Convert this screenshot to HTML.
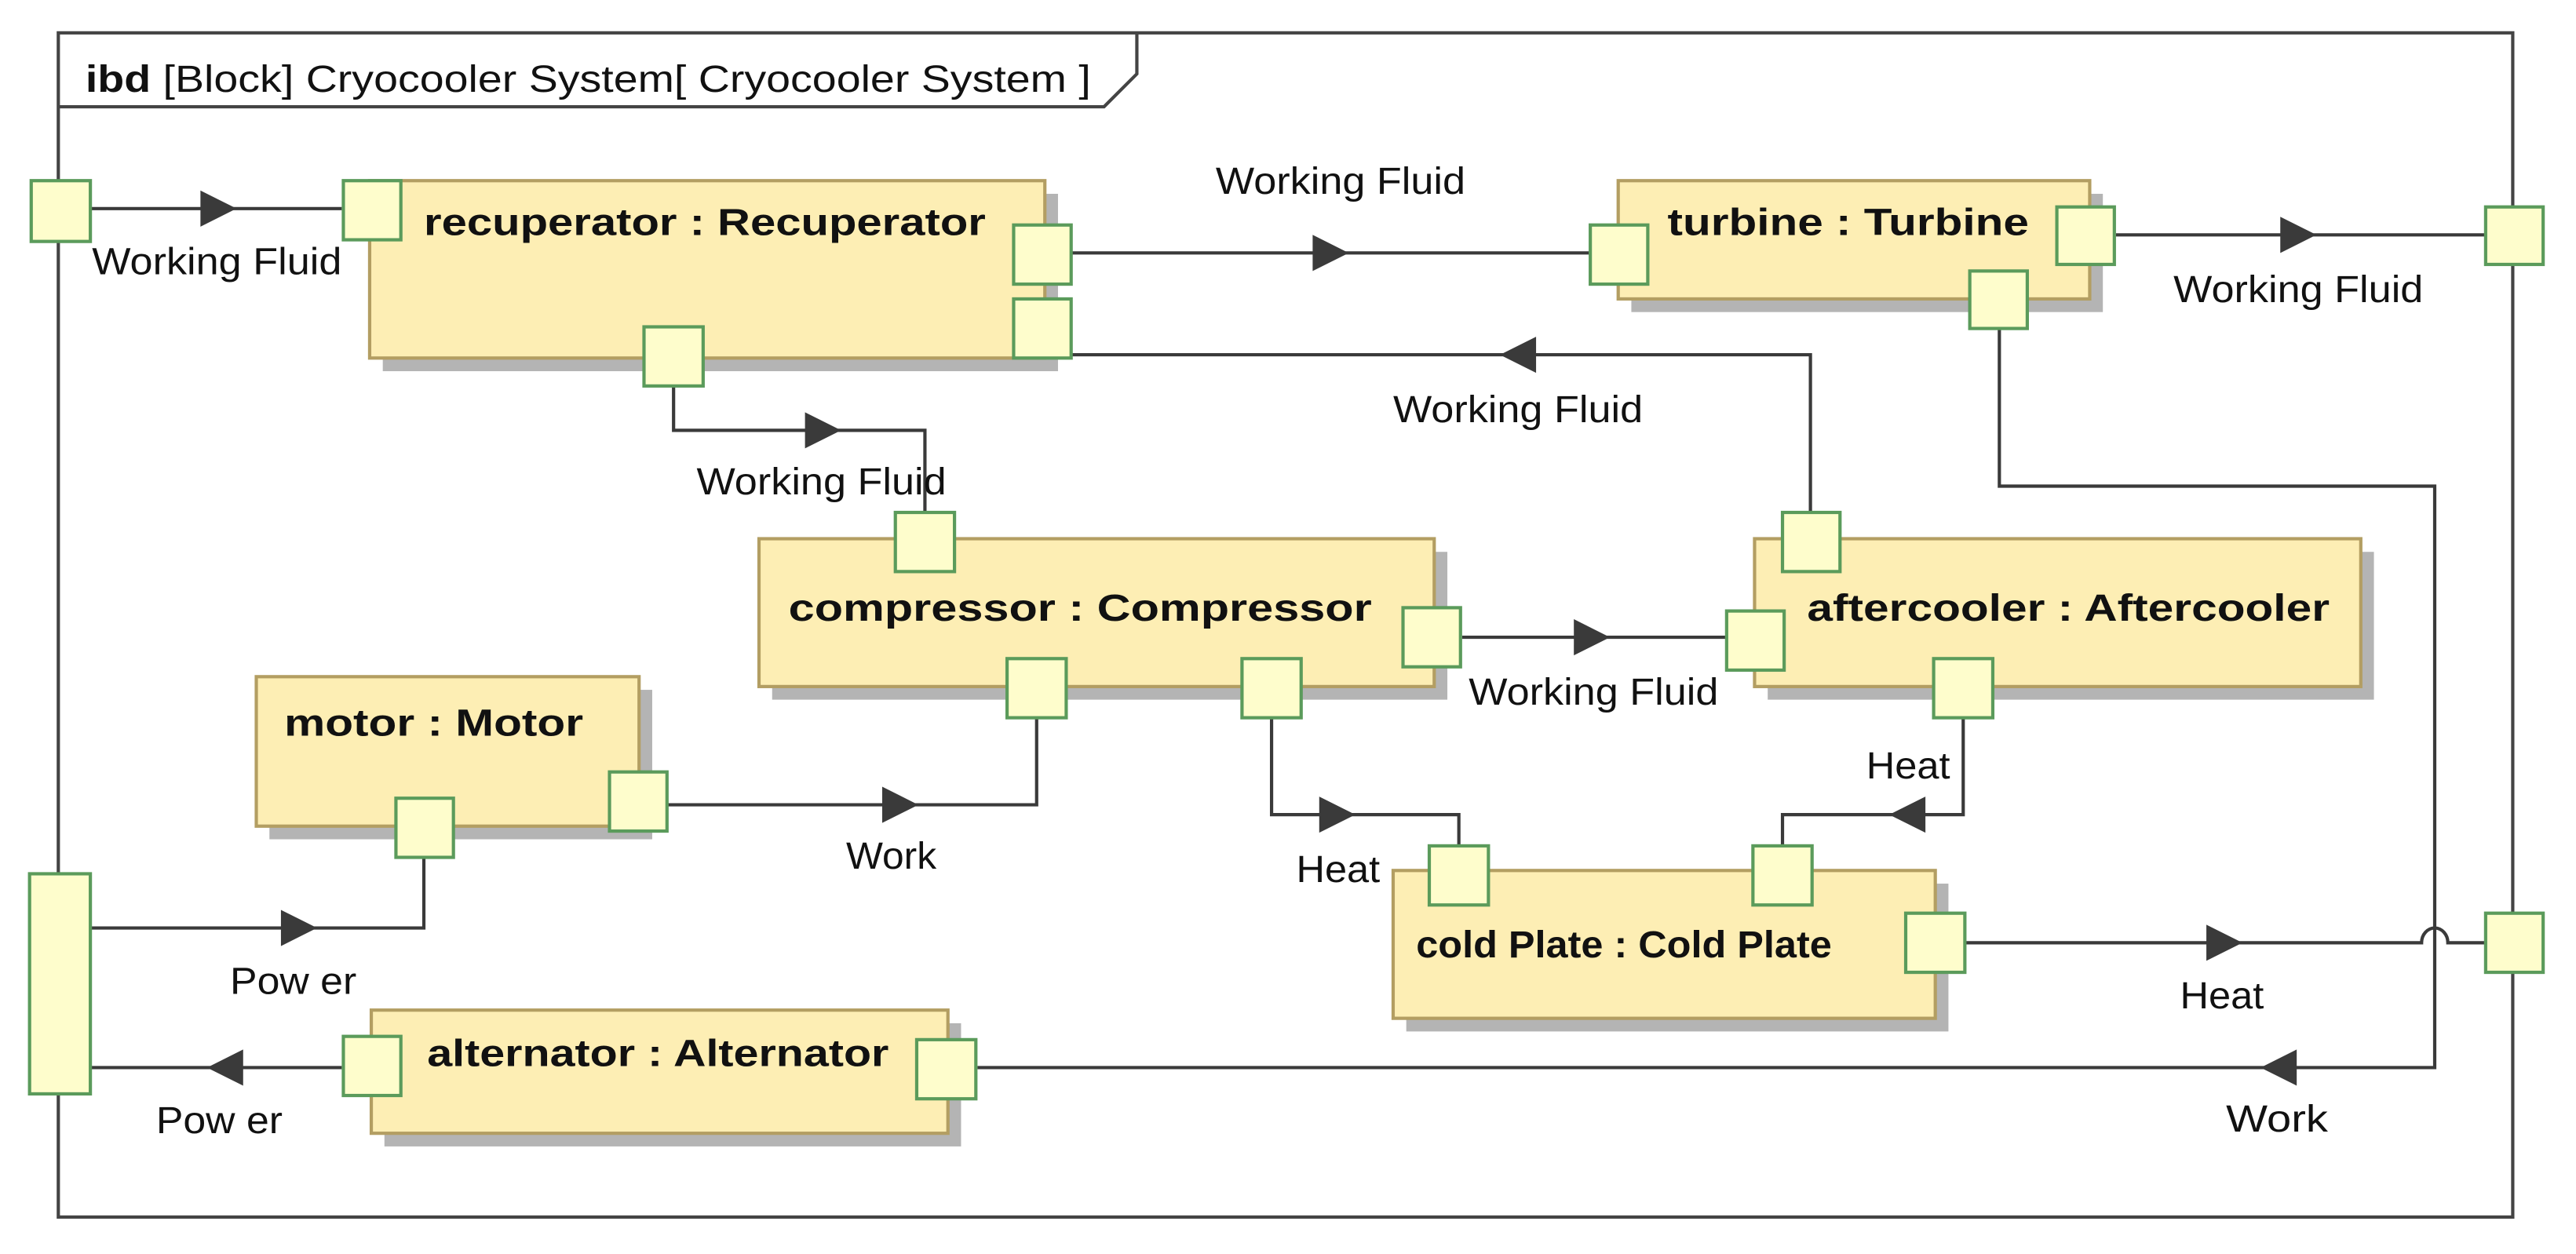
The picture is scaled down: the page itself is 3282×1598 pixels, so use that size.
<!DOCTYPE html>
<html><head><meta charset="utf-8"><style>html,body{margin:0;padding:0;background:#fff}svg{display:block}</style></head>
<body>
<svg width="3282" height="1598" viewBox="0 0 1568 763.5" preserveAspectRatio="none" xmlns="http://www.w3.org/2000/svg" font-family="Liberation Sans, Arial, sans-serif">
<rect x="0" y="0" width="1568" height="763.5" fill="#fff"/>
<rect x="35.5" y="20" width="1494" height="721" fill="none" stroke="#444" stroke-width="2"/>
<polyline points="35.5,65 672,65 692,45 692,20" fill="none" stroke="#444" stroke-width="2"/>
<text x="52" y="56" font-size="23" fill="#111" textLength="612" lengthAdjust="spacingAndGlyphs"><tspan font-weight="bold">ibd</tspan> [Block] Cryocooler System[ Cryocooler System ]</text>

<g stroke="#3a3a3a" stroke-width="2" fill="none">
<polyline points="55,127 208,127"/>
<polyline points="652,154 968,154"/>
<polyline points="652,216 1102,216 1102,313"/>
<polyline points="410,235 410,262 563,262 563,313"/>
<polyline points="1288,143 1513,143"/>
<polyline points="1217,200 1217,296 1482,296 1482,650 595,650"/>
<polyline points="890,388 1051,388"/>
<polyline points="406,490 631,490 631,437"/>
<polyline points="774,437 774,496 888,496 888,515"/>
<polyline points="1195,437 1195,496 1085,496 1085,515"/>
<polyline points="55,565 258,565 258,522"/>
<polyline points="208,650 55,650"/>
<path d="M1196,574 L1474,574 A8,9 0 0 1 1490,574 L1513,574"/>
</g>

<g fill="#3a3a3a">
<polygon points="122,116 122,138 144,127"/>
<polygon points="799,143 799,165 821,154"/>
<polygon points="935,205 935,227 913,216"/>
<polygon points="490,251 490,273 512,262"/>
<polygon points="1388,132 1388,154 1410,143"/>
<polygon points="1398,639 1398,661 1376,650"/>
<polygon points="958,377 958,399 980,388"/>
<polygon points="537,479 537,501 559,490"/>
<polygon points="803,485 803,507 825,496"/>
<polygon points="1172,485 1172,507 1150,496"/>
<polygon points="171,554 171,576 193,565"/>
<polygon points="148,639 148,661 126,650"/>
<polygon points="1343,563 1343,585 1365,574"/>
</g>

<g>
<rect x="233" y="118" width="411" height="108" fill="#b4b4b4"/>
<rect x="225" y="110" width="411" height="108" fill="#fdeeb4" stroke="#b39e62" stroke-width="2"/>
<rect x="993" y="118" width="287" height="72" fill="#b4b4b4"/>
<rect x="985" y="110" width="287" height="72" fill="#fdeeb4" stroke="#b39e62" stroke-width="2"/>
<rect x="470" y="336" width="411" height="90" fill="#b4b4b4"/>
<rect x="462" y="328" width="411" height="90" fill="#fdeeb4" stroke="#b39e62" stroke-width="2"/>
<rect x="1076" y="336" width="369" height="90" fill="#b4b4b4"/>
<rect x="1068" y="328" width="369" height="90" fill="#fdeeb4" stroke="#b39e62" stroke-width="2"/>
<rect x="164" y="420" width="233" height="91" fill="#b4b4b4"/>
<rect x="156" y="412" width="233" height="91" fill="#fdeeb4" stroke="#b39e62" stroke-width="2"/>
<rect x="856" y="538" width="330" height="90" fill="#b4b4b4"/>
<rect x="848" y="530" width="330" height="90" fill="#fdeeb4" stroke="#b39e62" stroke-width="2"/>
<rect x="234" y="623" width="351" height="75" fill="#b4b4b4"/>
<rect x="226" y="615" width="351" height="75" fill="#fdeeb4" stroke="#b39e62" stroke-width="2"/>
</g>

<g font-weight="bold" font-size="23" fill="#111">
<text x="258" y="143" textLength="342" lengthAdjust="spacingAndGlyphs">recuperator : Recuperator</text>
<text x="1015" y="143" textLength="220" lengthAdjust="spacingAndGlyphs">turbine : Turbine</text>
<text x="480" y="378" textLength="355" lengthAdjust="spacingAndGlyphs">compressor : Compressor</text>
<text x="1100" y="378" textLength="318" lengthAdjust="spacingAndGlyphs">aftercooler : Aftercooler</text>
<text x="173" y="448" textLength="182" lengthAdjust="spacingAndGlyphs">motor : Motor</text>
<text x="862" y="583" textLength="253" lengthAdjust="spacingAndGlyphs">cold Plate : Cold Plate</text>
<text x="260" y="649" textLength="281" lengthAdjust="spacingAndGlyphs">alternator : Alternator</text>
</g>

<g fill="#fefdcc" stroke="#5b9b5b" stroke-width="2">
<rect x="19" y="110" width="36" height="37"/>
<rect x="209" y="110" width="35" height="36"/>
<rect x="617" y="137" width="35" height="36"/>
<rect x="617" y="182" width="35" height="36"/>
<rect x="392" y="199" width="36" height="36"/>
<rect x="968" y="137" width="35" height="36"/>
<rect x="1252" y="126" width="35" height="35"/>
<rect x="1199" y="165" width="35" height="35"/>
<rect x="1513" y="126" width="35" height="35"/>
<rect x="545" y="312" width="36" height="36"/>
<rect x="854" y="370" width="35" height="36"/>
<rect x="613" y="401" width="36" height="36"/>
<rect x="756" y="401" width="36" height="36"/>
<rect x="1085" y="312" width="35" height="36"/>
<rect x="1051" y="372" width="35" height="36"/>
<rect x="1177" y="401" width="36" height="36"/>
<rect x="371" y="470" width="35" height="36"/>
<rect x="241" y="486" width="35" height="36"/>
<rect x="870" y="515" width="36" height="36"/>
<rect x="1067" y="515" width="36" height="36"/>
<rect x="1160" y="556" width="36" height="36"/>
<rect x="1513" y="556" width="35" height="36"/>
<rect x="18" y="532" width="37" height="134"/>
<rect x="209" y="631" width="35" height="36"/>
<rect x="558" y="633" width="36" height="36"/>
</g>

<g font-size="23" fill="#111">
<text x="56" y="167" textLength="152" lengthAdjust="spacingAndGlyphs">Working Fluid</text>
<text x="740" y="118" textLength="152" lengthAdjust="spacingAndGlyphs">Working Fluid</text>
<text x="848" y="257" textLength="152" lengthAdjust="spacingAndGlyphs">Working Fluid</text>
<text x="424" y="301" textLength="152" lengthAdjust="spacingAndGlyphs">Working Fluid</text>
<text x="1323" y="184" textLength="152" lengthAdjust="spacingAndGlyphs">Working Fluid</text>
<text x="894" y="429" textLength="152" lengthAdjust="spacingAndGlyphs">Working Fluid</text>
<text x="1136" y="474" textLength="51" lengthAdjust="spacingAndGlyphs">Heat</text>
<text x="789" y="537" textLength="51" lengthAdjust="spacingAndGlyphs">Heat</text>
<text x="1327" y="614" textLength="51" lengthAdjust="spacingAndGlyphs">Heat</text>
<text x="515" y="529" textLength="55" lengthAdjust="spacingAndGlyphs">Work</text>
<text x="1355" y="689" textLength="62" lengthAdjust="spacingAndGlyphs">Work</text>
<text x="140" y="605" textLength="77" lengthAdjust="spacingAndGlyphs">Pow er</text>
<text x="95" y="690" textLength="77" lengthAdjust="spacingAndGlyphs">Pow er</text>
</g>
</svg>
</body></html>
